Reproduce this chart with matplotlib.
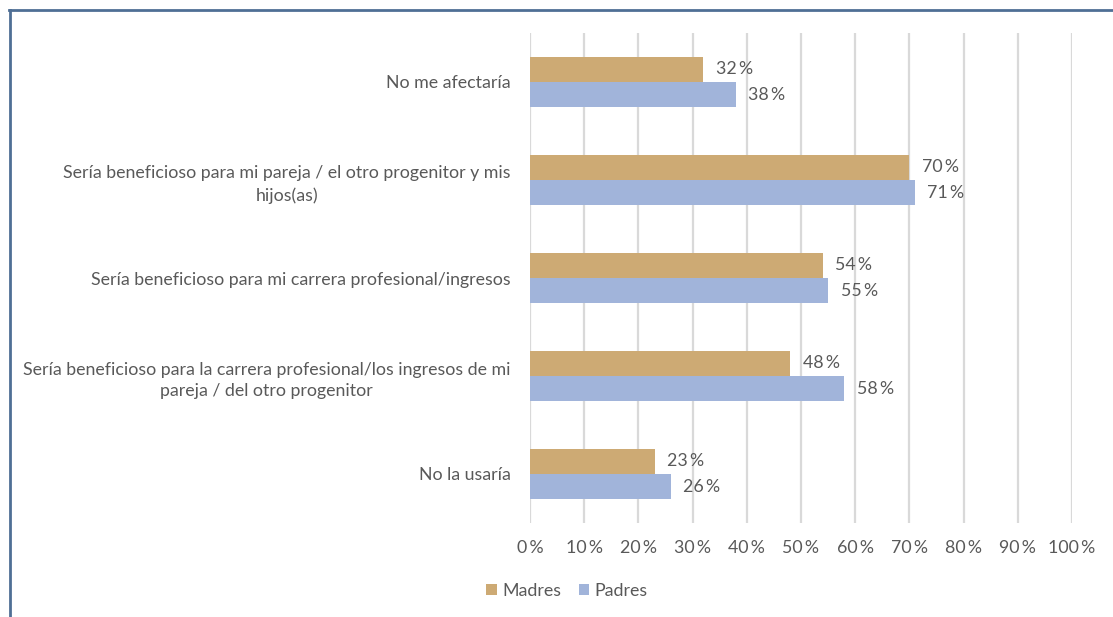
import matplotlib
matplotlib.use("Agg")
import matplotlib.pyplot as plt
from matplotlib.lines import Line2D
from matplotlib.patches import Patch
import numpy as np

# Survey answers (top to bottom) and shares in percent
categories = [
    "No me afectaría",
    "Sería beneficioso para mi pareja / el otro progenitor y mis\nhijos(as)",
    "Sería beneficioso para mi carrera profesional/ingresos",
    "Sería beneficioso para la carrera profesional/los ingresos de mi\npareja / del otro progenitor",
    "No la usaría",
]
madres = [32, 70, 54, 48, 23]
padres = [38, 71, 55, 58, 26]
series_names = ["Madres", "Padres"]
x_ticks = [0, 10, 20, 30, 40, 50, 60, 70, 80, 90, 100]
x_tick_labels = [f"{t}\u2009%" for t in x_ticks]

col_madres = "#cdaa74"
col_padres = "#a1b4da"
text_col = "#595959"
grid_col = "#d9d9d9"
frame_col = "#4f6f95"
fs = 12.8

plt.rcParams["font.family"] = ["Lato", "DejaVu Sans"]

W, H = 1113, 617
fig = plt.figure(figsize=(W / 100, H / 100), dpi=100)
ax = fig.add_axes([530 / W, (H - 523) / H, 542 / W, 490 / H])

n = len(categories)
y = np.arange(n)
bh = 0.26
ax.barh(y - bh / 2, madres, height=bh, color=col_madres, zorder=3)
ax.barh(y + bh / 2, padres, height=bh, color=col_padres, zorder=3)

for yi, m, p in zip(y, madres, padres):
    ax.annotate(f"{m}\u2009%", (m, yi - bh / 2), xytext=(9, 0), textcoords="offset points",
                va="center", ha="left", fontsize=fs, color=text_col)
    ax.annotate(f"{p}\u2009%", (p, yi + bh / 2), xytext=(9, 0), textcoords="offset points",
                va="center", ha="left", fontsize=fs, color=text_col)

ax.set_xlim(0, 100)
ax.set_ylim(n - 0.5, -0.5)
ax.set_xticks(x_ticks)
ax.set_xticklabels(x_tick_labels, fontsize=fs, color=text_col)
ax.set_yticks(y)
ax.set_yticklabels(categories, fontsize=fs, color=text_col, multialignment="center",
                   linespacing=1.45)
ax.tick_params(axis="both", length=0)
ax.tick_params(axis="x", pad=12)
ax.tick_params(axis="y", pad=14)
ax.grid(axis="x", color=grid_col, linewidth=1.6, zorder=0)
for s in ax.spines.values():
    s.set_visible(False)

handles = [Patch(facecolor=col_madres, edgecolor="none"),
           Patch(facecolor=col_padres, edgecolor="none")]
leg = fig.legend(handles, series_names, loc="center", bbox_to_anchor=(567 / W, 1 - 591 / H),
                 ncol=2, frameon=False, fontsize=fs, handlelength=0.6, handleheight=0.6,
                 handletextpad=0.3, columnspacing=1.0)
for t in leg.get_texts():
    t.set_color(text_col)

# chart frame: visible along top and left edges
fig.add_artist(Line2D([9.5 / W, 9.5 / W], [0, 1 - 9.5 / H], color=frame_col, linewidth=2,
                      transform=fig.transFigure))
fig.add_artist(Line2D([8.5 / W, 1], [1 - 9.5 / H, 1 - 9.5 / H], color=frame_col, linewidth=2,
                      transform=fig.transFigure))

fig.savefig("out.png", dpi=100, facecolor="white")
